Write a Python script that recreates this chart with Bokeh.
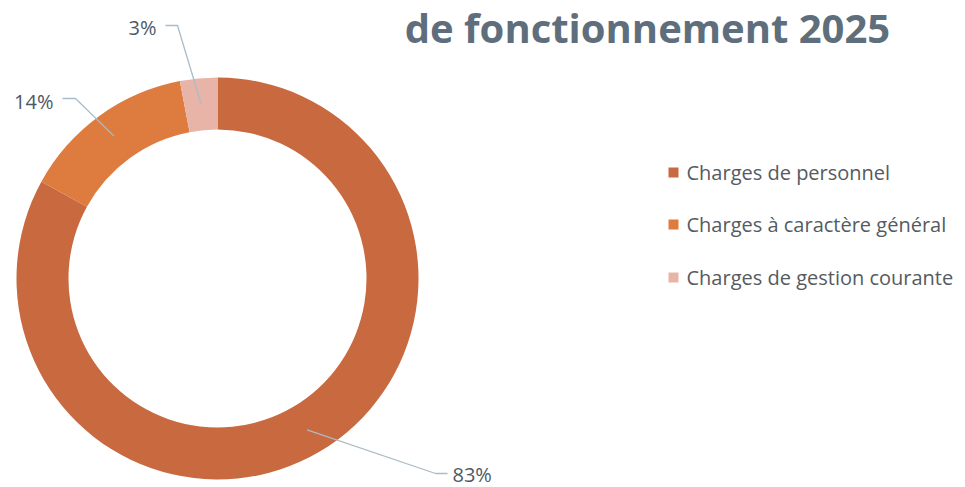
import numpy as np
from bokeh.plotting import figure
from bokeh.models import Range1d, ColumnDataSource
from bokeh.core.properties import value
from bokeh.embed import file_html
from bokeh.resources import INLINE

categories = ["Charges de personnel", "Charges à caractère général", "Charges de gestion courante"]
shares = [83, 14, 3]
pct_labels = ["83%", "14%", "3%"]
colors = ["#C8693F", "#DE7B3F", "#E8B4A7"]
title_text = "de fonctionnement 2025"

W, H = 965, 487
p = figure(width=W, height=H, output_backend="svg", toolbar_location=None,
           x_range=Range1d(0, W), y_range=Range1d(0, H), min_border=0)
p.axis.visible = False
p.grid.visible = False
p.outline_line_color = None
p.background_fill_color = "white"

cx, cy = 217, 209
r_out, r_in = 201, 149

frac = np.array(shares) / sum(shares)
ends = np.pi / 2 - 2 * np.pi * np.cumsum(frac)
starts = np.concatenate([[np.pi / 2], ends[:-1]])
src = ColumnDataSource(dict(start=ends, end=starts, color=colors))
p.annular_wedge(x=cx, y=cy, inner_radius=r_in, outer_radius=r_out,
                start_angle="start", end_angle="end", color="color",
                line_color=None, source=src)

# leader lines & labels
mids = (starts + ends) / 2
r_anchor = 176
elbows = [(435, 14), (75, 389), (177, 462)]
label_dx = [12, -13, -12]
label_dy = [-1, -3, -2]
for i in range(3):
    ax = cx + r_anchor * np.cos(mids[i])
    ay = cy + r_anchor * np.sin(mids[i])
    ex, ey = elbows[i]
    hx = ex + label_dx[i]
    p.line([ax, ex, hx], [ay, ey, ey], line_color="#A9BCC9", line_width=1.3)
    align = "left" if label_dx[i] > 0 else "right"
    p.text(x=[hx + (5 if align == "left" else -9)], y=[ey + label_dy[i]], text=[pct_labels[i]],
           text_align=align, text_baseline="middle", text_font=value("Open Sans"),
           text_font_size="20px", text_color="#4D5966")

# legend
leg_y = [H - 172, H - 224, H - 277]
p.rect(x=[673] * 3, y=leg_y, width=10, height=10, color=colors, line_color=None)
p.text(x=[686] * 3, y=leg_y, text=categories, text_align="left", text_baseline="middle",
       text_font=value("Open Sans"), text_font_size="20px", text_color="#555B61")

# title
p.text(x=[647], y=[H - 27], text=[title_text], text_align="center", text_baseline="middle",
       text_font=value("Open Sans"), text_font_style="bold", text_font_size="40px",
       text_color="#5E6E7C")

open("out.html", "w").write(file_html(p, INLINE))
